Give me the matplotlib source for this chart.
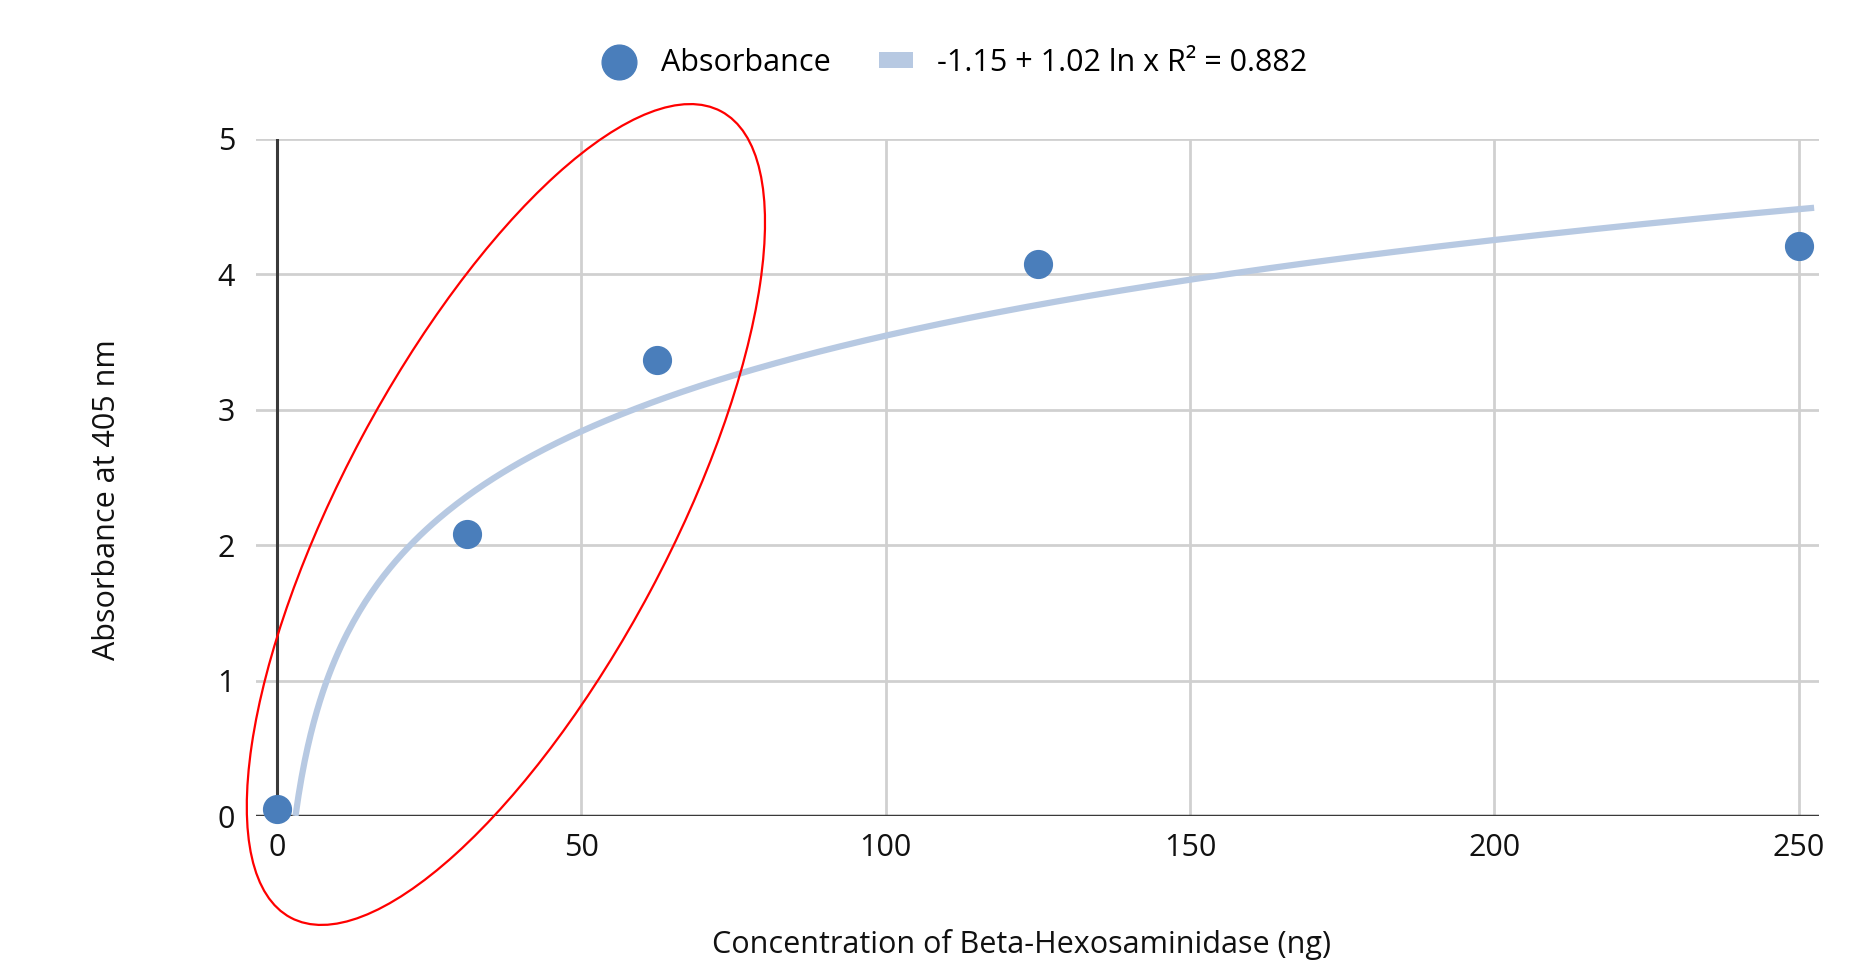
import numpy as np
import matplotlib
matplotlib.use("Agg")
import matplotlib.pyplot as plt
from matplotlib.patches import Ellipse
from matplotlib.lines import Line2D
from matplotlib.patches import Patch
from matplotlib.transforms import IdentityTransform

plt.rcParams['font.family'] = ['Open Sans', 'DejaVu Sans']

# data
concentration = [0, 31.25, 62.5, 125, 250]
absorbance = [0.05, 2.08, 3.37, 4.08, 4.21]

# log trendline from the legend
fit_a = -1.15
fit_b = 1.02
fit_r2 = 0.882
fit_x_end = 252.5

x_ticks = [0, 50, 100, 150, 200, 250]
y_ticks = [0, 1, 2, 3, 4, 5]

dot_color = '#4a7ebb'
trend_color = '#b7c9e2'
grid_color = '#d0d0d0'
axis_color = '#3a3a3a'
fs = 22

W, H = 1861, 963
fig = plt.figure(figsize=(W / 100, H / 100), dpi=100)
ax = fig.add_axes([256 / W, 1 - 816 / H, (1819 - 256) / W, (816 - 139) / H])

# trendline
x0 = np.exp(-fit_a / fit_b)
tx = np.linspace(x0, fit_x_end, 500)
ty = fit_a + fit_b * np.log(tx)
ax.plot(tx, ty, color=trend_color, lw=4.5, solid_capstyle='butt', zorder=3)

ax.plot(concentration, absorbance, 'o', color=dot_color, ms=20, mec=dot_color,
        zorder=5, clip_on=False)

ax.set_xlim(-3.4, 253.3)
ax.set_ylim(0, 5)
ax.set_xticks(x_ticks)
ax.set_yticks(y_ticks)
ax.tick_params(length=0, labelsize=fs, colors='#111111')
ax.tick_params(axis='x', pad=12)
ax.tick_params(axis='y', pad=15)

for t in x_ticks[1:]:
    ax.axvline(t, color=grid_color, lw=2, zorder=1)
for t in y_ticks[1:]:
    ax.axhline(t, color=grid_color, lw=2, zorder=1)
ax.axvline(0, color=axis_color, lw=2.2, zorder=2)
ax.axhline(0, color=axis_color, lw=2.5, zorder=2)

for s in ax.spines.values():
    s.set_visible(False)

fig.text(107 / W, 1 - 500 / H, 'Absorbance at 405 nm', rotation=90,
         ha='center', va='center', fontsize=fs, color='#111111')
fig.text(1021 / W, 1 - 944 / H, 'Concentration of Beta-Hexosaminidase (ng)',
         ha='center', va='center', fontsize=fs, color='#111111')

handles = [
    Line2D([], [], marker='o', ls='none', color=dot_color, ms=25),
    Patch(facecolor=trend_color, edgecolor='none'),
]
labels = ['Absorbance', f'{fit_a} + {fit_b} ln x R\u00b2 = {fit_r2}']
fig.legend(handles, labels, loc='center', bbox_to_anchor=(955 / W, 1 - 63 / H),
           ncol=2, frameon=False, fontsize=fs, handlelength=1.1, handleheight=0.4,
           columnspacing=1.6, handletextpad=0.8)

# red annotation ellipse (pixel coords)
ell = Ellipse((505.9, H - 514.5), width=914, height=327, angle=61.9,
              facecolor='none', edgecolor='red', lw=1.6,
              transform=IdentityTransform(), zorder=10)
fig.add_artist(ell)

fig.savefig('out.png', dpi=100)
